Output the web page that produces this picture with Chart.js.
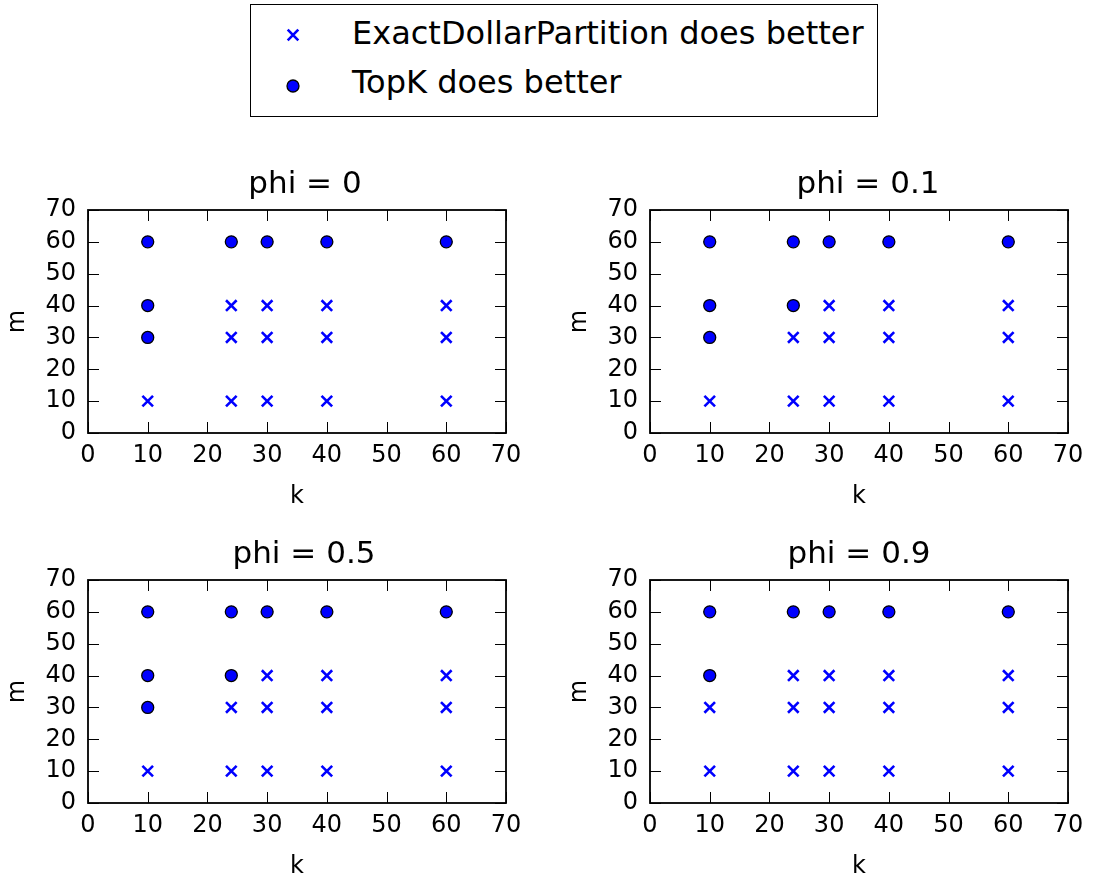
<!DOCTYPE html>
<html>
<head>
<meta charset="utf-8">
<title>TopK vs ExactDollarPartition</title>
<script src="https://cdn.jsdelivr.net/npm/chart.js@4.4.0/dist/chart.umd.min.js"></script>
<style>
  body { margin: 0; background: #fff; font-family: "DejaVu Sans", sans-serif; }
  #page { position: relative; width: 1102px; height: 882px; overflow: hidden; }
  .panel { position: absolute; width: 540px; height: 360px; }
  #legend-box { position: absolute; left: 250px; top: 4px; width: 628px; height: 113px;
                border: 1.5px solid #000; box-sizing: border-box; }
  .leg-text { position: absolute; left: 352px; font-size: 32px; line-height: 32px; color: #000; white-space: nowrap; }
  .leg-mark { position: absolute; width: 30px; height: 30px; }
</style>
</head>
<body>
<div id="page">
  <div id="legend-box"></div>
  <canvas class="leg-mark" id="mark-edp" width="30" height="30" style="left:278px; top:20px;"></canvas>
  <div class="leg-text" style="top:17px;">ExactDollarPartition does better</div>
  <canvas class="leg-mark" id="mark-topk" width="30" height="30" style="left:278px; top:71px;"></canvas>
  <div class="leg-text" style="top:66px;">TopK does better</div>

  <canvas class="panel" id="phi0" width="540" height="360" style="left:0px; top:160px;"></canvas>
  <canvas class="panel" id="phi1" width="540" height="360" style="left:562px; top:160px;"></canvas>
  <canvas class="panel" id="phi5" width="540" height="360" style="left:0px; top:530px;"></canvas>
  <canvas class="panel" id="phi9" width="540" height="360" style="left:562px; top:530px;"></canvas>
</div>
<script>
// grid of experiments
const kValues = [10, 24, 30, 40, 60];
const mValues = [10, 30, 40, 60];
const axisTicks = [0, 10, 20, 30, 40, 50, 60, 70];

// 1 = TopK does better, 0 = ExactDollarPartition does better
// rows follow mValues (10, 30, 40, 60), columns follow kValues
const topKWinsPhi0 = [
  [0, 0, 0, 0, 0],
  [1, 0, 0, 0, 0],
  [1, 0, 0, 0, 0],
  [1, 1, 1, 1, 1]
];
const topKWinsPhi01 = [
  [0, 0, 0, 0, 0],
  [1, 0, 0, 0, 0],
  [1, 1, 0, 0, 0],
  [1, 1, 1, 1, 1]
];
const topKWinsPhi05 = [
  [0, 0, 0, 0, 0],
  [1, 0, 0, 0, 0],
  [1, 1, 0, 0, 0],
  [1, 1, 1, 1, 1]
];
const topKWinsPhi09 = [
  [0, 0, 0, 0, 0],
  [0, 0, 0, 0, 0],
  [1, 0, 0, 0, 0],
  [1, 1, 1, 1, 1]
];

const BLUE = '#0000ff';
const FONT = 'DejaVu Sans';

const edpStyle = { pointStyle: 'crossRot', radius: 7.5, borderWidth: 2.6, borderColor: BLUE, backgroundColor: BLUE };
const topKStyle = { pointStyle: 'circle', radius: 6, borderWidth: 1.3, borderColor: '#000', backgroundColor: BLUE };

// frame + inward ticks on all four sides (matplotlib classic look)
const framePlugin = {
  id: 'frame',
  afterDraw(chart) {
    const ctx = chart.ctx;
    const a = chart.chartArea;
    const xs = chart.scales.x, ys = chart.scales.y;
    const len = 11;
    ctx.save();
    ctx.strokeStyle = '#000';
    ctx.lineWidth = 1;
    ctx.beginPath();
    axisTicks.forEach(v => {
      const px = Math.round(xs.getPixelForValue(v)) + 0.5;
      ctx.moveTo(px, a.bottom); ctx.lineTo(px, a.bottom - len);
      ctx.moveTo(px, a.top); ctx.lineTo(px, a.top + len);
      const py = Math.round(ys.getPixelForValue(v)) + 0.5;
      ctx.moveTo(a.left, py); ctx.lineTo(a.left + len, py);
      ctx.moveTo(a.right, py); ctx.lineTo(a.right - len, py);
    });
    ctx.stroke();
    ctx.lineWidth = 1.8;
    ctx.strokeRect(a.left, a.top, a.right - a.left, a.bottom - a.top);
    ctx.restore();
  }
};

// nudge the title sideways like in the original figure
const titleShift = {
  id: 'titleShift',
  afterLayout(chart, args, opts) {
    if (chart.titleBlock && opts.dx) {
      chart.titleBlock.left += opts.dx;
      chart.titleBlock.right += opts.dx;
    }
  }
};

function makePanel(id, phiLabel, wins, dx) {
  const topK = [];
  const edp = [];
  mValues.forEach((m, i) => {
    kValues.forEach((k, j) => {
      if (wins[i][j]) topK.push({ x: k, y: m });
      else edp.push({ x: k, y: m });
    });
  });

  const tickFont = { family: FONT, size: 24 };

  new Chart(document.getElementById(id), {
    type: 'scatter',
    data: {
      datasets: [
        {
          label: 'ExactDollarPartition does better',
          data: edp,
          pointStyle: edpStyle.pointStyle,
          pointRadius: edpStyle.radius,
          pointBorderWidth: edpStyle.borderWidth,
          borderColor: edpStyle.borderColor,
          backgroundColor: edpStyle.backgroundColor
        },
        {
          label: 'TopK does better',
          data: topK,
          pointStyle: topKStyle.pointStyle,
          pointRadius: topKStyle.radius,
          pointBorderWidth: topKStyle.borderWidth,
          borderColor: topKStyle.borderColor,
          backgroundColor: topKStyle.backgroundColor
        }
      ]
    },
    options: {
      responsive: false,
      animation: false,
      events: [],
      layout: { padding: { left: 0, right: 34, top: 0, bottom: 0 } },
      plugins: {
        legend: { display: false },
        tooltip: { enabled: false },
        titleShift: { dx: dx },
        title: {
          display: true,
          fullSize: false,
          text: 'phi = ' + phiLabel,
          color: '#000',
          font: { family: FONT, size: 31, weight: 'normal' },
          padding: { top: 6, bottom: 6.8 }
        }
      },
      scales: {
        x: {
          type: 'linear',
          min: 0,
          max: 70,
          afterBuildTicks: s => { s.ticks = axisTicks.map(v => ({ value: v })); },
          afterFit: s => { s.height = 87; },
          grid: { display: false, drawTicks: false },
          border: { display: false },
          ticks: { padding: 8, color: '#000', font: tickFont, maxRotation: 0, autoSkip: false },
          title: { display: true, text: 'k', color: '#000', font: tickFont, padding: { top: 0, bottom: 9 } }
        },
        y: {
          type: 'linear',
          min: 0,
          max: 70,
          afterBuildTicks: s => { s.ticks = axisTicks.map(v => ({ value: v })); },
          afterFit: s => { s.width = 88; },
          grid: { display: false, drawTicks: false },
          border: { display: false },
          ticks: { padding: 12, color: '#000', font: tickFont, autoSkip: false },
          title: { display: true, text: 'm', color: '#000', font: tickFont, padding: { top: 3, bottom: 0 } }
        }
      }
    },
    plugins: [framePlugin, titleShift]
  });
}

// legend markers drawn with the library's own point renderer
function drawMarker(id, style) {
  const c = document.getElementById(id);
  const ctx = c.getContext('2d');
  ctx.strokeStyle = style.borderColor;
  ctx.fillStyle = style.backgroundColor;
  ctx.lineWidth = style.borderWidth;
  if (Chart.helpers && Chart.helpers.drawPoint) {
    Chart.helpers.drawPoint(ctx, { pointStyle: style.pointStyle, radius: style.radius, borderWidth: style.borderWidth, rotation: 0 }, 15, 15);
  } else if (style.pointStyle === 'circle') {
    ctx.beginPath(); ctx.arc(15, 15, style.radius, 0, Math.PI * 2); ctx.fill(); ctx.stroke();
  } else {
    const d = style.radius * Math.SQRT1_2;
    ctx.beginPath();
    ctx.moveTo(15 - d, 15 - d); ctx.lineTo(15 + d, 15 + d);
    ctx.moveTo(15 - d, 15 + d); ctx.lineTo(15 + d, 15 - d);
    ctx.stroke();
  }
}

drawMarker('mark-edp', edpStyle);
drawMarker('mark-topk', topKStyle);

makePanel('phi0', '0', topKWinsPhi0, 8);
makePanel('phi1', '0.1', topKWinsPhi01, 9);
makePanel('phi5', '0.5', topKWinsPhi05, 7);
makePanel('phi9', '0.9', topKWinsPhi09, 0);
</script>
</body>
</html>
